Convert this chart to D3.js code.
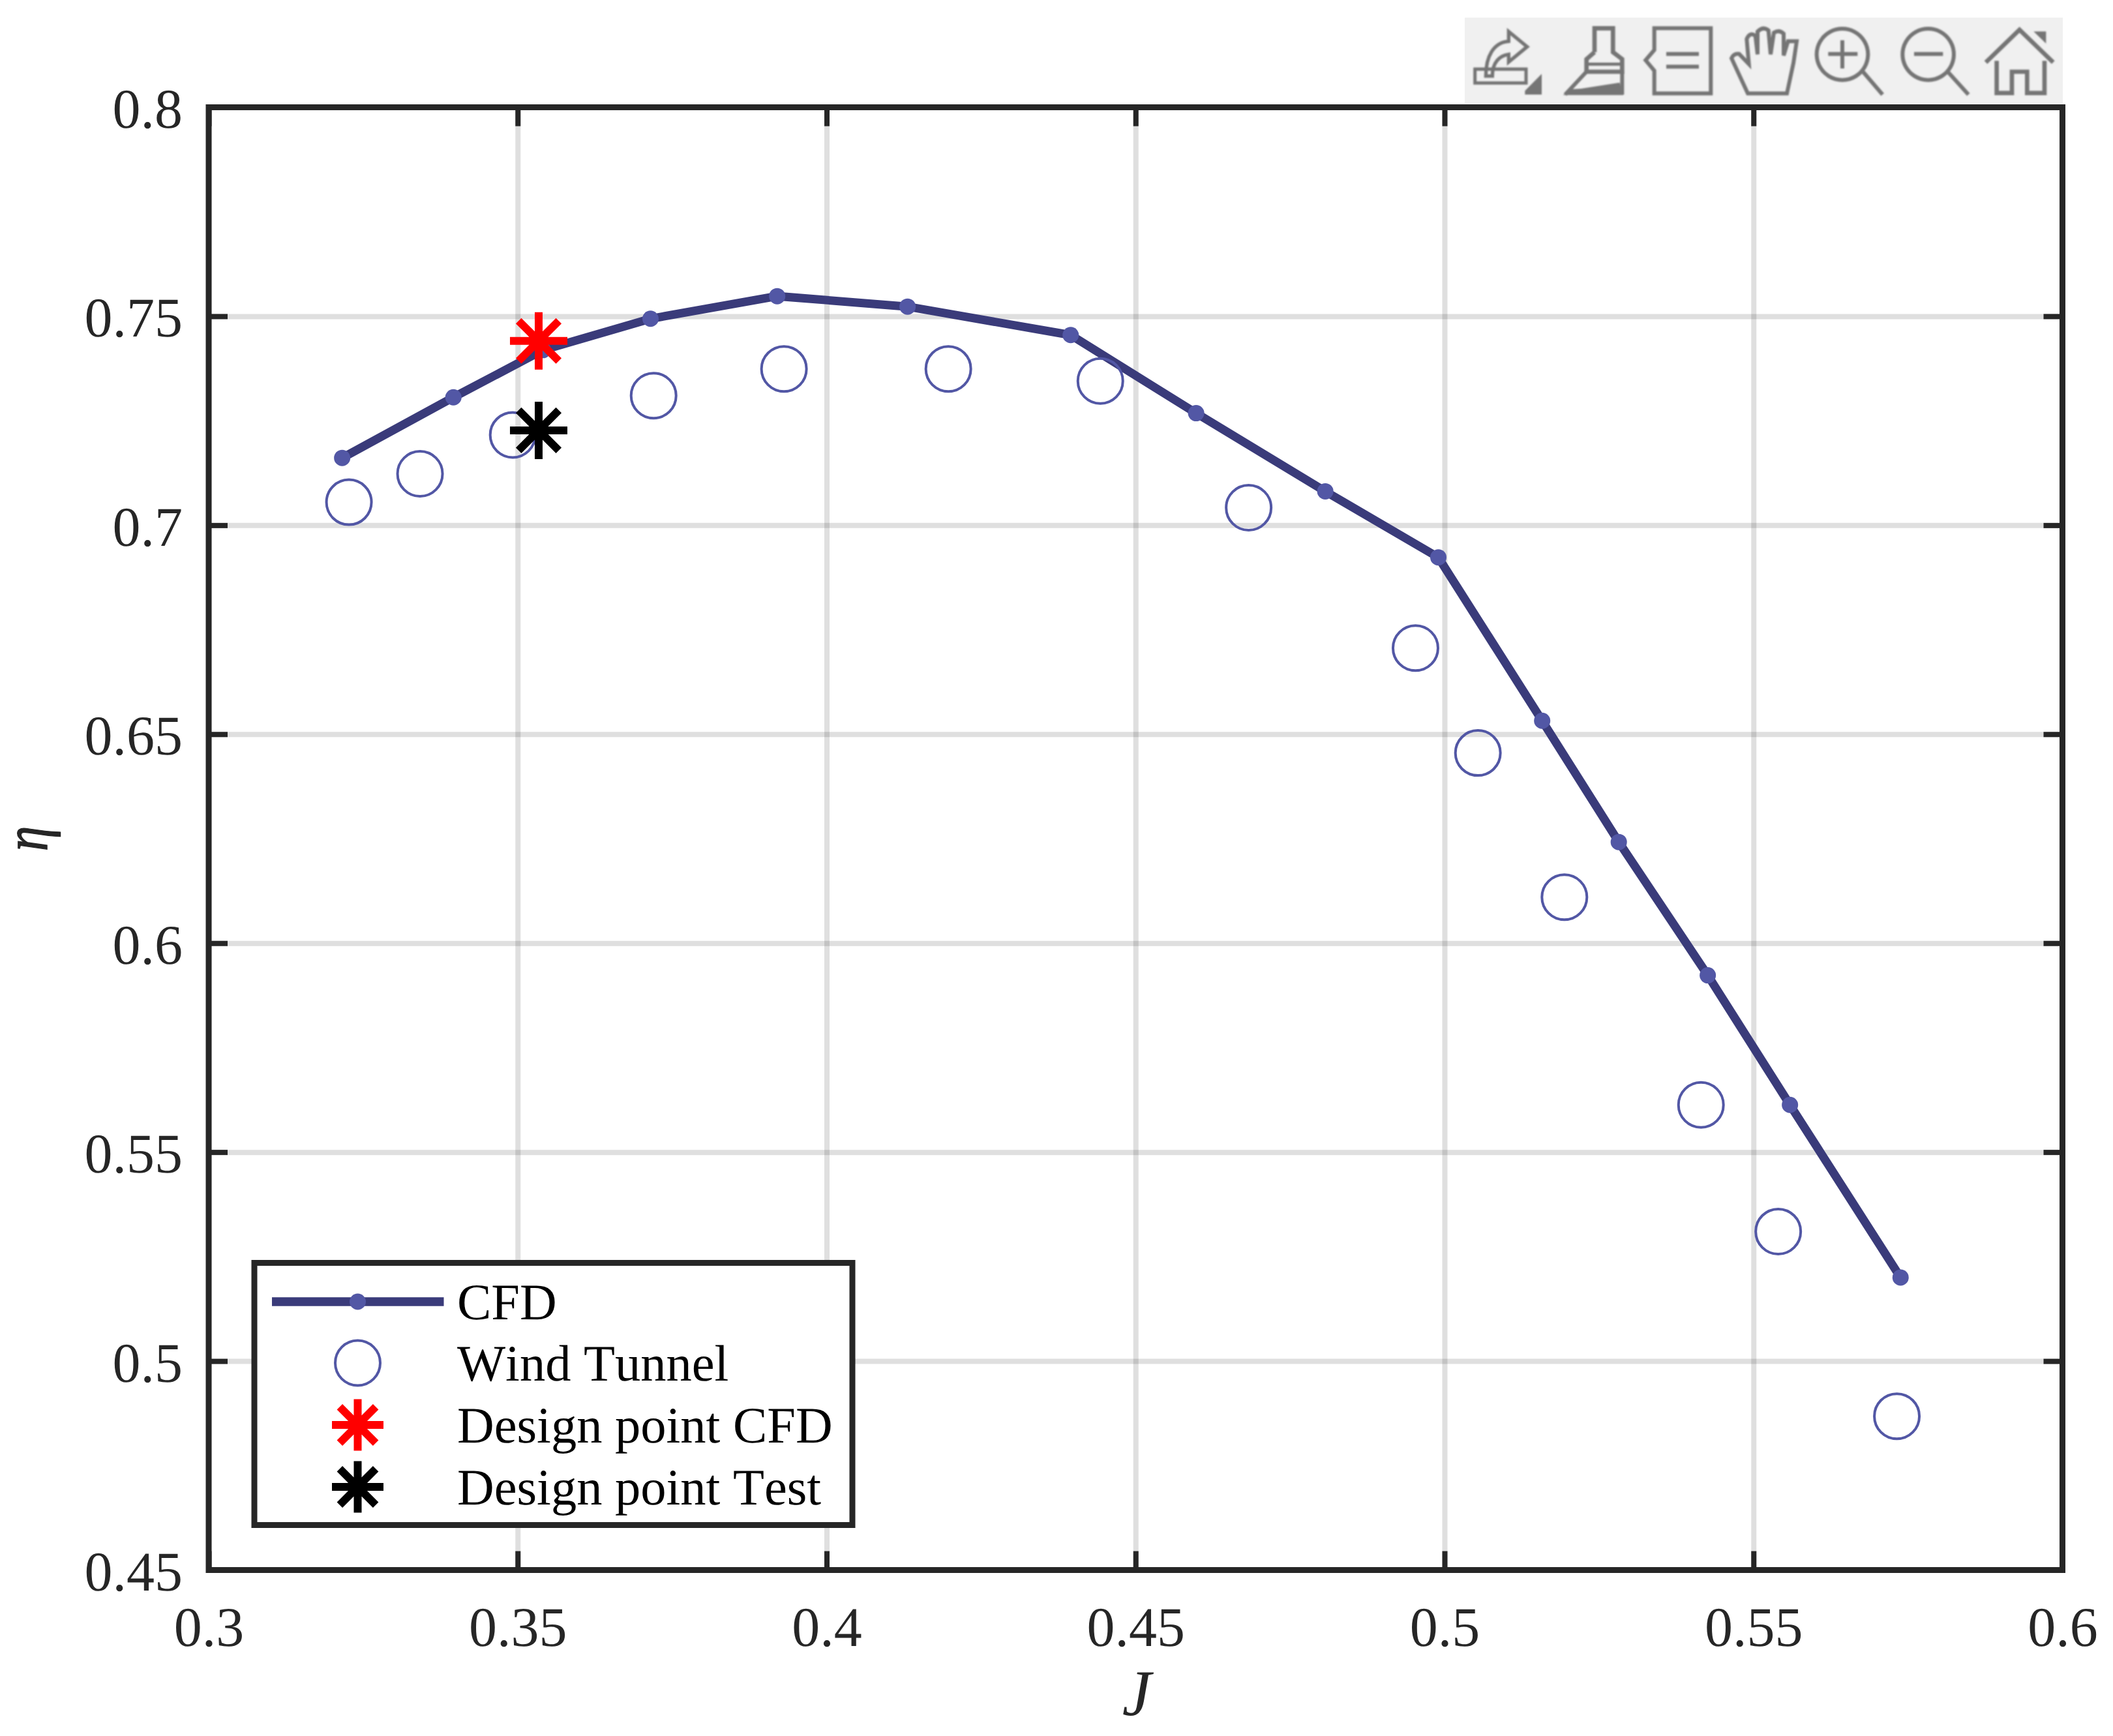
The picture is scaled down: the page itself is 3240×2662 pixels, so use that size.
<!DOCTYPE html>
<html>
<head>
    <meta charset="utf-8">
    <script src="https://d3js.org/d3.v7.min.js"></script>
    <style>
        body { margin: 0; background: white; }
        text { font-family: "Liberation Serif", serif; font-kerning: none; text-rendering: geometricPrecision; }
    </style>
</head>
<body>
    <div id="my_dataviz"></div>

    <script>
        // data
        var cfdJ = [0.3216, 0.3396, 0.3541, 0.3715, 0.3920, 0.4131, 0.4395, 0.4598, 0.4807, 0.4990, 0.5158, 0.5282, 0.5426, 0.5559, 0.5738];
        var cfdEta = [0.7161, 0.7306, 0.7419, 0.7494, 0.7548, 0.7523, 0.7455, 0.7268, 0.7081, 0.6923, 0.6532, 0.6242, 0.5923, 0.5613, 0.5200];
        var tunnelJ = [0.3227, 0.3342, 0.3492, 0.3720, 0.3931, 0.4197, 0.4443, 0.4683, 0.4953, 0.5054, 0.5194, 0.5415, 0.5540, 0.5732];
        var tunnelEta = [0.7055, 0.7123, 0.7216, 0.7310, 0.7374, 0.7374, 0.7345, 0.7042, 0.6706, 0.6455, 0.6110, 0.5613, 0.5310, 0.4868];
        var designCfd = [0.3534, 0.7441];
        var designTest = [0.3534, 0.7227];
        var xTicks = [0.3, 0.35, 0.4, 0.45, 0.5, 0.55, 0.6];
        var yTicks = [0.45, 0.5, 0.55, 0.6, 0.65, 0.7, 0.75, 0.8];
        var legendLabels = ["CFD", "Wind Tunnel", "Design point CFD", "Design point Test"];

        var axisColor = "#262626", lineColor = "#3a3b7a", markColor = "#5257a5";

        var margin = { top: 164.5, right: 77.5, bottom: 254.5, left: 320 },
            width = 3240 - margin.left - margin.right,
            height = 2662 - margin.top - margin.bottom;

        var root = d3.select("#my_dataviz")
            .append("svg")
            .attr("width", 3240)
            .attr("height", 2662)
            .style("display", "block");

        var defs = root.append("defs");
        defs.append("filter").attr("id", "soft")
            .append("feGaussianBlur").attr("stdDeviation", 0.9);

        var svg = root.append("g")
            .attr("transform", "translate(" + margin.left + "," + margin.top + ")");

        var x = d3.scaleLinear().domain([0.3, 0.6]).range([0, width]);
        var y = d3.scaleLinear().domain([0.45, 0.8]).range([height, 0]);

        // grid
        svg.append("g")
            .attr("transform", "translate(0," + height + ")")
            .call(d3.axisBottom(x).tickValues(xTicks).tickSize(-height).tickFormat(""))
            .call(function (g) { g.select(".domain").remove(); })
            .selectAll("line").attr("stroke", axisColor).attr("stroke-opacity", 0.15).attr("stroke-width", 8);
        svg.append("g")
            .call(d3.axisLeft(y).tickValues(yTicks).tickSize(-width).tickFormat(""))
            .call(function (g) { g.select(".domain").remove(); })
            .selectAll("line").attr("stroke", axisColor).attr("stroke-opacity", 0.15).attr("stroke-width", 8);

        // axes, ticks point inward on all four sides
        var tl = 29;
        var axes = [
            svg.append("g").attr("transform", "translate(0," + height + ")")
                .call(d3.axisBottom(x).tickValues(xTicks).tickSize(-tl).tickFormat(String)),
            svg.append("g")
                .call(d3.axisTop(x).tickValues(xTicks).tickSize(-tl).tickFormat("")),
            svg.append("g")
                .call(d3.axisLeft(y).tickValues(yTicks).tickSize(-tl).tickFormat(String)),
            svg.append("g").attr("transform", "translate(" + width + ",0)")
                .call(d3.axisRight(y).tickValues(yTicks).tickSize(-tl).tickFormat(""))
        ];
        axes.forEach(function (g) {
            g.selectAll(".tick line").attr("stroke", axisColor).attr("stroke-width", 8);
            g.select(".domain").remove();
            g.selectAll("text").attr("fill", axisColor).style("font-size", "86px")
                .style("font-family", "'Liberation Serif', serif");
        });
        axes[0].selectAll("text").attr("y", 116.5).attr("dy", 0);
        axes[2].selectAll("text").attr("x", -40).attr("dy", 31);

        svg.append("rect")
            .attr("width", width).attr("height", height)
            .attr("fill", "none").attr("stroke", axisColor).attr("stroke-width", 9);

        // axis labels
        root.append("text")
            .attr("x", 1743).attr("y", 2630)
            .attr("text-anchor", "middle")
            .attr("fill", axisColor)
            .style("font-size", "100px").style("font-style", "italic")
            .text("J");
        root.append("text")
            .attr("transform", "translate(72,1286) rotate(-90) scale(0.8,1)")
            .attr("text-anchor", "middle")
            .attr("fill", axisColor)
            .attr("stroke", axisColor)
            .attr("stroke-width", 1.5)
            .style("font-size", "96px").style("font-style", "italic")
            .text("η");

        // 8 arm asterisk like the matlab '*' marker
        var asterisk = {
            draw: function (c, size) {
                var r = Math.sqrt(size) / 2, d = r * 0.7;
                c.moveTo(-r, 0); c.lineTo(r, 0);
                c.moveTo(0, -r); c.lineTo(0, r);
                c.moveTo(-d, -d); c.lineTo(d, d);
                c.moveTo(-d, d); c.lineTo(d, -d);
            }
        };

        function drawStar(g, px, py, color, span) {
            g.append("path")
                .attr("transform", "translate(" + px + "," + py + ")")
                .attr("d", d3.symbol().type(asterisk).size(span * span)())
                .attr("fill", "none")
                .attr("stroke", color)
                .attr("stroke-width", 12);
        }

        // series
        var line = d3.line()
            .x(function (d) { return x(d[0]); })
            .y(function (d) { return y(d[1]); });

        svg.append("path")
            .datum(d3.zip(cfdJ, cfdEta))
            .attr("d", line)
            .attr("fill", "none")
            .attr("stroke", lineColor)
            .attr("stroke-width", 13);

        svg.selectAll(".cfdDot")
            .data(d3.zip(cfdJ, cfdEta))
            .enter()
            .append("circle")
            .attr("class", "cfdDot")
            .attr("cx", function (d) { return x(d[0]); })
            .attr("cy", function (d) { return y(d[1]); })
            .attr("r", 12.5)
            .attr("fill", markColor);

        svg.selectAll(".tunnelDot")
            .data(d3.zip(tunnelJ, tunnelEta))
            .enter()
            .append("circle")
            .attr("class", "tunnelDot")
            .attr("cx", function (d) { return x(d[0]); })
            .attr("cy", function (d) { return y(d[1]); })
            .attr("r", 34.5)
            .attr("fill", "none")
            .attr("stroke", markColor)
            .attr("stroke-width", 4);

        drawStar(svg, x(designCfd[0]), y(designCfd[1]), "#ff0000", 88);
        drawStar(svg, x(designTest[0]), y(designTest[1]), "#000000", 88);

        // legend
        var legend = root.append("g");
        legend.append("rect")
            .attr("x", 390).attr("y", 1936.5)
            .attr("width", 917).attr("height", 402)
            .attr("fill", "white").attr("stroke", axisColor).attr("stroke-width", 9);

        var rowY = [1996, 2090, 2185, 2280];
        legend.selectAll(".legendText")
            .data(legendLabels)
            .enter()
            .append("text")
            .attr("class", "legendText")
            .attr("x", 701)
            .attr("y", function (d, i) { return rowY[i] + 27; })
            .attr("fill", "#000")
            .style("font-size", "78.5px")
            .text(function (d) { return d; });

        legend.append("line")
            .attr("x1", 417).attr("x2", 680.5).attr("y1", rowY[0]).attr("y2", rowY[0])
            .attr("stroke", lineColor).attr("stroke-width", 13.5);
        legend.append("circle")
            .attr("cx", 548.5).attr("cy", rowY[0]).attr("r", 12.5).attr("fill", markColor);
        legend.append("circle")
            .attr("cx", 548.5).attr("cy", rowY[1]).attr("r", 34.5)
            .attr("fill", "none").attr("stroke", markColor).attr("stroke-width", 4);
        drawStar(legend, 548.5, rowY[2], "#ff0000", 79);
        drawStar(legend, 548.5, rowY[3], "#000000", 79);

        // figure toolbar, icons drawn at 3x so they are easy to line up
        root.append("rect")
            .attr("x", 2246).attr("y", 27)
            .attr("width", 917).attr("height", 131)
            .attr("fill", "#f0f0f0");

        var iconColor = "#757575";
        var icons = root.append("g").attr("filter", "url(#soft)");
        var iconsA = icons.append("g").attr("transform", "translate(2250,30) scale(0.3333)");
        var iconsB = icons.append("g").attr("transform", "translate(2700,30) scale(0.3333)");

        function stroked(g, d, w) {
            g.append("path").attr("d", d).attr("fill", "none")
                .attr("stroke", iconColor).attr("stroke-width", w || 18)
                .attr("stroke-linejoin", "miter");
        }
        function filled(g, d) {
            g.append("path").attr("d", d).attr("fill", iconColor);
        }

        // export
        stroked(iconsA, "M35 228H270V292H35Z", 15);
        stroked(iconsA, "M85 260C85 170 120 105 190 100L190 55L275 125L190 195L190 160C150 165 115 195 115 260Z", 16);
        filled(iconsA, "M265 328L342 250V345H265Z");
        // brush
        stroked(iconsA, "M585 150V40H670V150L712 182V240H548V182L585 150", 20);
        stroked(iconsA, "M548 205H712", 14);
        stroked(iconsA, "M548 240L450 345M712 240V345");
        filled(iconsA, "M522 318L700 290L718 347H440L480 320Z");
        // data cursor
        stroked(iconsA, "M860 40H1120V340H860V235L820 187L860 140Z", 18);
        stroked(iconsA, "M915 158H1065M915 217H1065", 18);
        // hand
        stroked(iconsB, "M-60 340L-135 178Q-125 155 -100 158L-55 205L-65 90Q-50 55 -25 75L-15 160L-15 55Q10 30 35 50L45 160L60 60Q85 45 105 65L105 165L125 100L165 100L150 200L120 340Z", 18);
        // zoom in
        stroked(iconsB, "M375 42A118 118 0 1 1 374.9 42Z");
        stroked(iconsB, "M310 158H445M375 95V225", 18);
        stroked(iconsB, "M470 240L560 345", 18);
        // zoom out
        stroked(iconsB, "M770 42A118 118 0 1 1 769.9 42Z");
        stroked(iconsB, "M705 158H838", 18);
        stroked(iconsB, "M860 240L955 345", 18);
        // home
        stroked(iconsB, "M1035 197L1190 47L1345 197", 20);
        stroked(iconsB, "M1085 190V338H1155V240H1225V338H1305V190", 20);
        filled(iconsB, "M1255 55H1312V110Z");
    </script>
</body>
</html>
